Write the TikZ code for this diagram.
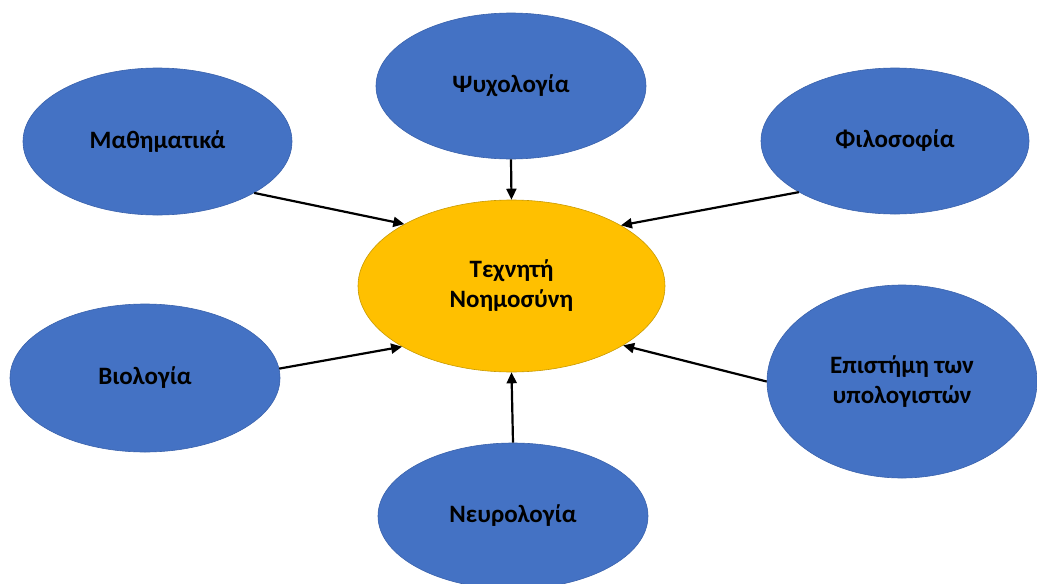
\documentclass[tikz,border=0pt]{standalone}
\usepackage{fontspec}
\setmainfont{Carlito}
\usetikzlibrary{shapes.geometric,arrows.meta}
\definecolor{topicblue}{HTML}{4472C4}
\definecolor{topicedge}{HTML}{3A62AC}
\definecolor{coregold}{HTML}{FFC000}
\definecolor{coreedge}{HTML}{C99A00}
\tikzset{
  topic/.style={ellipse, fill=topicblue, draw=topicedge, line width=0.6pt,
    inner sep=0pt, align=center, font=\fontsize{25}{30}\selectfont\bfseries},
  core/.style={ellipse, fill=coregold, draw=coreedge, line width=0.6pt,
    inner sep=0pt, align=center, font=\fontsize{25}{30}\selectfont\bfseries},
  link/.style={line width=2.2pt, -{Triangle[length=11pt,width=10pt]}}
}
\begin{document}
\begin{tikzpicture}[x=1pt,y=1pt]
  \useasboundingbox (0,0) rectangle (1037,-584);
  % central concept
  \node[core, minimum width=307pt, minimum height=172pt] (ai) at (511.5,-286) {Τεχνητή\\Νοημοσύνη};
  % contributing fields
  \node[topic, minimum width=270pt, minimum height=146pt] (psy) at (511,-86) {Ψυχολογία};
  \node[topic, minimum width=269pt, minimum height=147pt] (math) at (157.5,-141.5) {Μαθηματικά};
  \node[topic, minimum width=268pt, minimum height=146pt] (phil) at (895,-141) {Φιλοσοφία};
  \node[topic, minimum width=270pt, minimum height=148pt] (bio) at (145,-378) {Βιολογία};
  \node[topic, minimum width=270pt, minimum height=193pt] (cs) at (902,-381.5) {Επιστήμη των\\υπολογιστών};
  \node[topic, minimum width=270pt, minimum height=146pt] (neuro) at (513,-516) {Νευρολογία};
  % arrows towards the centre
  \draw[link] (psy.-90) -- (ai.90);
  \draw[link] (math.-28) -- (ai.150.7);
  \draw[link] (phil.208) -- (ai.29.8);
  \draw[link] (bio.4) -- (ai.209);
  \draw[link] (cs.180) -- (ai.-28.1);
  \draw[link] (neuro.90) -- (ai.-90);
\end{tikzpicture}
\end{document}
